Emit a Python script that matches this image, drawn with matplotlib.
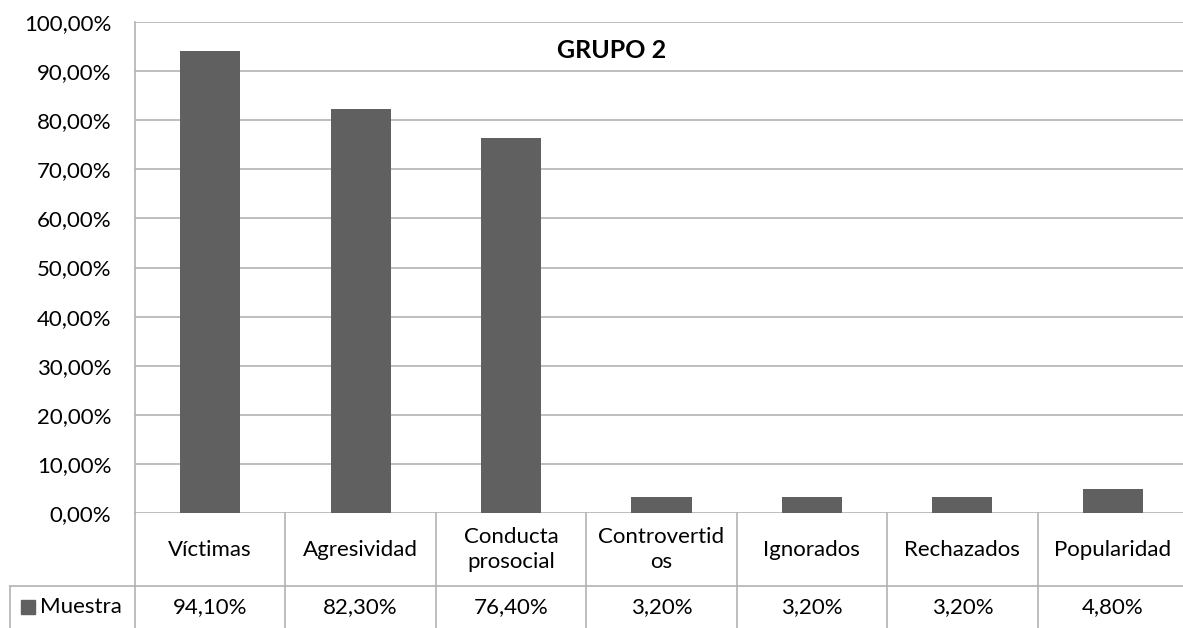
import matplotlib
matplotlib.use("Agg")
import matplotlib.pyplot as plt
import matplotlib.transforms as mtransforms
from matplotlib.patches import Rectangle
import numpy as np

categories = ["Víctimas", "Agresividad", "Conducta\nprosocial", "Controvertid\nos",
              "Ignorados", "Rechazados", "Popularidad"]
muestra = [94.1, 82.3, 76.4, 3.2, 3.2, 3.2, 4.8]
series_name = "Muestra"
title = "GRUPO 2"

W, H = 1183, 628
plt.rcParams['font.family'] = ['Lato', 'DejaVu Sans']
fig = plt.figure(figsize=(W / 100, H / 100), dpi=100)

# plot area in pixels
left, right, top, bottom = 135, 1188, 22, 513
ax = fig.add_axes([left / W, 1 - bottom / H, (right - left) / W, (bottom - top) / H])

fs = 16
x = np.arange(len(categories))
bar_color = "#606060"
grid_color = "#b3b3b3"
ax.bar(x, muestra, width=0.4, color=bar_color, zorder=3)

ax.set_xlim(-0.5, len(categories) - 0.5)
ax.set_ylim(0, 100)
ax.set_yticks(np.arange(0, 101, 10))
ax.set_yticklabels([f"{v:.2f}%".replace(".", ",") for v in np.arange(0, 101, 10)], fontsize=fs)
ax.tick_params(axis="y", length=0, pad=17)
ax.set_xticks([])
ax.yaxis.grid(True, color=grid_color, linewidth=1.2, zorder=0)
for s in ["top", "right", "bottom"]:
    ax.spines[s].set_visible(False)
ax.spines["left"].set_color(grid_color)
ax.spines["left"].set_linewidth(1.2)

fig.text(612 / W, 1 - 50 / H, title, ha="center", va="center",
         fontsize=18, fontweight="bold")

# data table below the axes
ppx = 1 / (bottom - top)  # axes fraction per pixel (vertical)
row1 = -(586 - bottom) * ppx
row2 = -(640 - bottom) * ppx
trans = mtransforms.blended_transform_factory(ax.transData, ax.transAxes)
lc = dict(color=grid_color, linewidth=1.2, clip_on=False, transform=trans)

ax.plot([-0.5, len(categories) - 0.5], [row1, row1], **lc)
for i in range(len(categories) + 1):
    ax.plot([i - 0.5, i - 0.5], [0, row2], **lc)

for i, (c, v) in enumerate(zip(categories, muestra)):
    ax.text(i, row1 / 2, c, transform=trans, ha="center", va="center",
            fontsize=fs, linespacing=1.35)
    ax.text(i, -(607 - bottom) * ppx, f"{v:.2f}%".replace(".", ","),
            transform=trans, ha="center", va="center", fontsize=fs)

# legend cell of the value row
fig.lines.append(plt.Line2D([10 / W, left / W], [1 - 586 / H, 1 - 586 / H],
                            color=grid_color, linewidth=1.2, transform=fig.transFigure))
fig.lines.append(plt.Line2D([10 / W, 10 / W], [1 - 586 / H, 0],
                            color=grid_color, linewidth=1.2, transform=fig.transFigure))
fig.patches.append(Rectangle((21 / W, 1 - 614 / H), 14 / W, 14 / H, color=bar_color,
                             transform=fig.transFigure))
fig.text(40 / W, 1 - 607 / H, series_name, ha="left", va="center", fontsize=fs)

fig.savefig("out.png", dpi=100)
